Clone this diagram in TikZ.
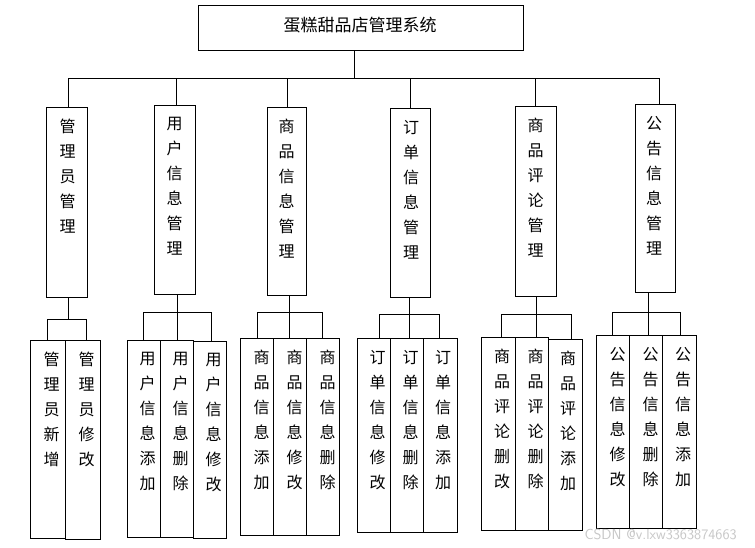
\documentclass[tikz,border=0pt]{standalone}
\usepackage{fontspec}
\newfontfamily\cjk{Noto Sans CJK SC}
\usetikzlibrary{calc}
\tikzset{
  boxst/.style={draw, line width=1pt, inner sep=0pt, outer sep=0pt, rectangle},
  vtext/.style={font=\cjk\fontsize{16}{25}\selectfont, align=center, inner sep=0pt, anchor=north},
  conn/.style={line width=1pt},
}
\newcommand\bx[6]{%
  \node[boxst, minimum width={(#4-#2)*1pt}, minimum height={(#5-#3)*1pt}] (#1) at ({(#2+#4)/2},{(#3+#5)/2}) {};%
}
\newcommand\vt[3]{% name, xshift, text
  \node[vtext] (#1t) at ([xshift=#2,yshift=-12pt]#1.north) {#3};%
}
\begin{document}
\begin{tikzpicture}[x=1pt,y=-1pt]
\useasboundingbox[fill=white] (0,0) rectangle (755,547);
% title
\bx{top}{198}{5}{523}{50}{}
\node[font=\cjk\fontsize{17}{20}\selectfont, inner sep=0pt] (topt) at (360,25) {蛋糕甜品店管理系统};
% level 2
\bx{m1}{46}{107}{87}{297}{}
\bx{m2}{154}{105}{195}{294}{}
\bx{m3}{267}{107}{306}{295}{}
\bx{m4}{390}{108}{430}{297}{}
\bx{m5}{515}{106}{556}{296}{}
\bx{m6}{635}{104}{675}{292}{}
\vt{m1}{1pt}{管\\理\\员\\管\\理}
\vt{m2}{0pt}{用\\户\\信\\息\\管\\理}
\vt{m3}{0pt}{商\\品\\信\\息\\管\\理}
\vt{m4}{1pt}{订\\单\\信\\息\\管\\理}
\vt{m5}{0pt}{商\\品\\评\\论\\管\\理}
\vt{m6}{-1pt}{公\\告\\信\\息\\管\\理}
% main bus
\coordinate (busL) at (68,78);
\coordinate (busR) at (660,78);
\draw[conn] (top.south -| 354,0) -- (354,78);
\draw[conn] (busL) -- (busR);
\draw[conn] ([xshift=1.5pt]m1.north) -- ([xshift=1.5pt]m1.north |- busL);
\draw[conn] ([xshift=1.5pt]m2.north) -- ([xshift=1.5pt]m2.north |- busL);
\draw[conn] ([xshift=0.5pt]m3.north) -- ([xshift=0.5pt]m3.north |- busL);
\draw[conn] (m4.north) -- (m4.north |- busL);
\draw[conn] (m5.north) -- (m5.north |- busL);
\draw[conn] ([xshift=4pt]m6.north) -- ([xshift=4pt]m6.north |- busL);
% leaves group 1
\bx{a1}{30}{340}{65}{538}{}
\bx{a2}{65}{340}{100}{539}{}
\vt{a1}{4pt}{管\\理\\员\\新\\增}
\vt{a2}{4pt}{管\\理\\员\\修\\改}
\coordinate (g1) at (0,319);
\draw[conn] ([xshift=1.5pt]m1.south) -- ([xshift=1.5pt]m1.south |- g1);
\draw[conn] ([xshift=-0.5pt]a1.north) -- ([xshift=-0.5pt]a1.north |- g1) -- ([xshift=3.5pt]a2.north |- g1) -- ([xshift=3.5pt]a2.north);
% group 2
\bx{b1}{127}{340}{160}{537}{}
\bx{b2}{160}{340}{193}{537}{}
\bx{b3}{193}{341}{226}{538}{}
\vt{b1}{4pt}{用\\户\\信\\息\\添\\加}
\vt{b2}{4pt}{用\\户\\信\\息\\删\\除}
\vt{b3}{4pt}{用\\户\\信\\息\\修\\改}
\coordinate (g2) at (0,312);
\draw[conn] ([xshift=2.5pt]m2.south) -- ([xshift=2.5pt]m2.south |- g2);
\draw[conn] ([xshift=-0.5pt]b1.north) -- ([xshift=-0.5pt]b1.north |- g2) -- ([xshift=1.5pt]b3.north |- g2) -- ([xshift=1.5pt]b3.north);
\draw[conn] ([xshift=0.5pt]b2.north) -- ([xshift=0.5pt]b2.north |- g2);
% group 3
\bx{c1}{240}{338}{273}{535}{}
\bx{c2}{273}{338}{306}{535}{}
\bx{c3}{306}{338}{339}{535}{}
\vt{c1}{5pt}{商\\品\\信\\息\\添\\加}
\vt{c2}{5pt}{商\\品\\信\\息\\修\\改}
\vt{c3}{5pt}{商\\品\\信\\息\\删\\除}
\coordinate (g3) at (0,312);
\draw[conn] ([xshift=2.5pt]m3.south) -- ([xshift=2.5pt]m3.south |- g3);
\draw[conn] ([xshift=0.5pt]c1.north) -- ([xshift=0.5pt]c1.north |- g3) -- ([xshift=-0.5pt]c3.north |- g3) -- ([xshift=-0.5pt]c3.north);
\draw[conn] ([xshift=-0.5pt]c2.north) -- ([xshift=-0.5pt]c2.north |- g3);
% group 4
\bx{d1}{357}{338}{390}{532}{}
\bx{d2}{390}{338}{423}{532}{}
\bx{d3}{423}{338}{457}{532}{}
\vt{d1}{4pt}{订\\单\\信\\息\\修\\改}
\vt{d2}{4pt}{订\\单\\信\\息\\删\\除}
\vt{d3}{3pt}{订\\单\\信\\息\\添\\加}
\coordinate (g4) at (0,314);
\draw[conn] ([xshift=-1pt]m4.south) -- ([xshift=-1pt]m4.south |- g4);
\draw[conn] ([xshift=5.5pt]d1.north) -- ([xshift=5.5pt]d1.north |- g4) -- ([xshift=-1pt]d3.north |- g4) -- ([xshift=-1pt]d3.north);
\draw[conn] ([xshift=2.5pt]d2.north) -- ([xshift=2.5pt]d2.north |- g4);
% group 5
\bx{e1}{481}{337}{515}{530}{}
\bx{e2}{515}{337}{548}{530}{}
\bx{e3}{548}{339}{582}{530}{}
\vt{e1}{4pt}{商\\品\\评\\论\\删\\改}
\vt{e2}{4pt}{商\\品\\评\\论\\删\\除}
\vt{e3}{3pt}{商\\品\\评\\论\\添\\加}
\coordinate (g5) at (0,314);
\draw[conn] ([xshift=0.5pt]m5.south) -- ([xshift=0.5pt]m5.south |- g5);
\draw[conn] ([xshift=3pt]e1.north) -- ([xshift=3pt]e1.north |- g5) -- ([xshift=6pt]e3.north |- g5) -- ([xshift=6pt]e3.north);
\draw[conn] ([xshift=4.5pt]e2.north) -- ([xshift=4.5pt]e2.north |- g5);
% group 6
\bx{f1}{596}{335}{629}{528}{}
\bx{f2}{629}{335}{662}{528}{}
\bx{f3}{662}{335}{696}{528}{}
\vt{f1}{5pt}{公\\告\\信\\息\\修\\改}
\vt{f2}{5pt}{公\\告\\信\\息\\删\\除}
\vt{f3}{4pt}{公\\告\\信\\息\\添\\加}
\coordinate (g6) at (0,312);
\draw[conn] ([xshift=-7pt]m6.south) -- ([xshift=-7pt]m6.south |- g6);
\draw[conn] ([xshift=-0.5pt]f1.north) -- ([xshift=-0.5pt]f1.north |- g6) -- ([xshift=1pt]f3.north |- g6) -- ([xshift=1pt]f3.north);
\draw[conn] ([xshift=2.5pt]f2.north) -- ([xshift=2.5pt]f2.north |- g6);
% watermark
\node[font=\sffamily\fontsize{14.5}{16}\selectfont, text=black!22, inner sep=0pt, anchor=east] (wm) at (737,534) {CSDN @v.lxw3363874663};
\end{tikzpicture}
\end{document}
